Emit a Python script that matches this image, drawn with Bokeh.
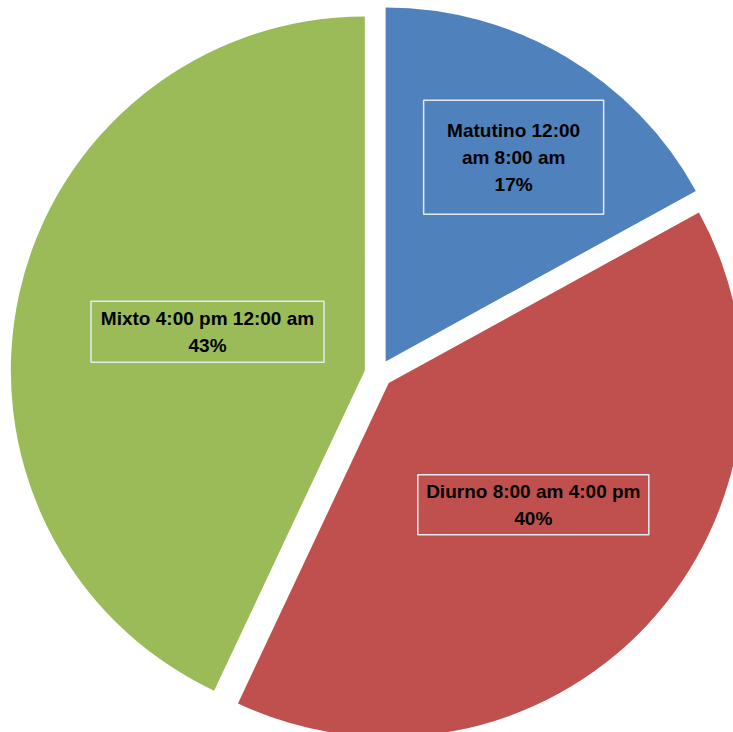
import math
from bokeh.plotting import figure
from bokeh.models import Range1d, ColumnDataSource
from bokeh.core.properties import value
from bokeh.embed import file_html
from bokeh.resources import INLINE

# ---- data ----
categories = ["Matutino 12:00 am 8:00 am", "Diurno 8:00 am 4:00 pm", "Mixto 4:00 pm 12:00 am"]
label_lines = [["Matutino 12:00", "am 8:00 am"], ["Diurno 8:00 am 4:00 pm"], ["Mixto 4:00 pm 12:00 am"]]
percents = [17, 40, 43]
colors = ["#4F81BD", "#C0504D", "#9BBB59"]

# ---- layout (pixels; data units == pixels) ----
W, H = 733, 732
CX, CY = 378, 732 - 373
R = 354
EXPLODE = 14
label_angle = [58.0, -40.3, 166.3]   # degrees
label_rad = [255, 203, 176]
box_w = [180, 231, 233]
box_h = [114, 60, 61]
FONT_PX = 19
LINE_H = 27

p = figure(width=W, height=H, output_backend="svg", toolbar_location=None,
           x_axis_type=None, y_axis_type=None, min_border=0,
           x_range=Range1d(0, W), y_range=Range1d(732 - H, 732))
p.outline_line_color = None
p.grid.visible = False
p.background_fill_color = "white"
p.border_fill_color = "white"

total = sum(percents)
cum = 0
xs, ys, starts, ends = [], [], [], []
for v in percents:
    a0 = 90 - 360 * cum / total
    cum += v
    a1 = 90 - 360 * cum / total
    mid = math.radians((a0 + a1) / 2)
    xs.append(CX + EXPLODE * math.cos(mid))
    ys.append(CY + EXPLODE * math.sin(mid))
    starts.append(math.radians(a1))
    ends.append(math.radians(a0))

src = ColumnDataSource(dict(x=xs, y=ys, s=starts, e=ends, c=colors))
p.wedge(x="x", y="y", radius=R, start_angle="s", end_angle="e", direction="anticlock",
        fill_color="c", line_color=None, source=src)

tx, ty, tt = [], [], []
bx, by = [], []
for i, v in enumerate(percents):
    a = math.radians(label_angle[i])
    lx = CX + label_rad[i] * math.cos(a)
    ly = CY + label_rad[i] * math.sin(a)
    bx.append(lx)
    by.append(ly)
    lines = label_lines[i] + [f"{v}%"]
    n = len(lines)
    for k, t in enumerate(lines):
        tx.append(lx)
        ty.append(ly + (n - 1) / 2 * LINE_H - k * LINE_H)
        tt.append(t)

p.rect(x=bx, y=by, width=box_w, height=box_h, fill_color=None,
       line_color="#E4EAF4", line_width=1.5)
p.text(x=tx, y=ty, text=tt, text_align="center", text_baseline="middle",
       text_font=value("Liberation Sans"), text_font_style="bold",
       text_font_size=f"{FONT_PX}px", text_color="#000000")

open("out.html", "w").write(file_html(p, INLINE))
